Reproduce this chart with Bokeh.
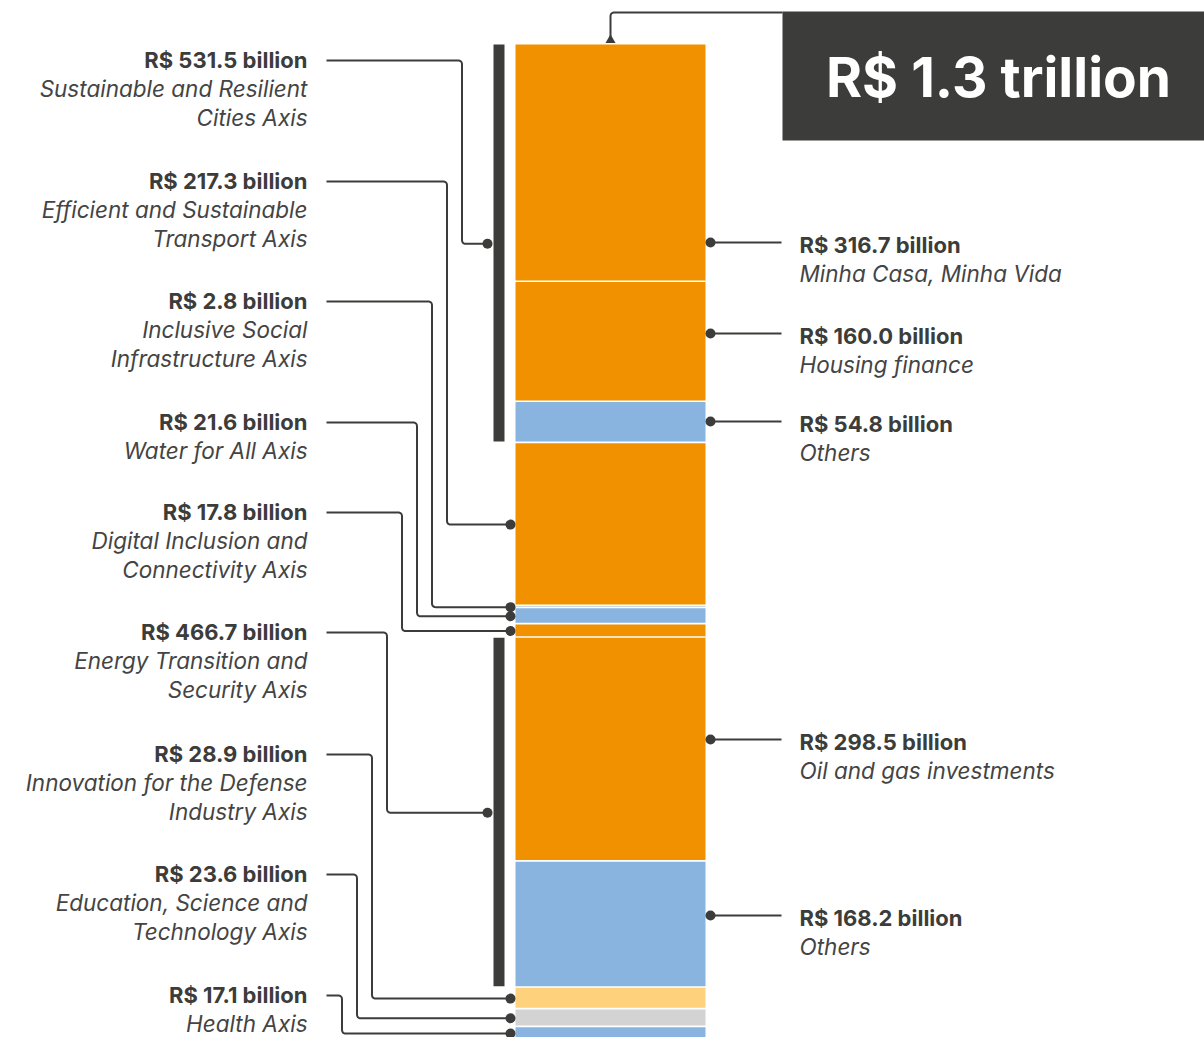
import numpy as np
from bokeh.plotting import figure
from bokeh.models import Range1d
from bokeh.core.properties import value
from bokeh.embed import file_html
from bokeh.resources import INLINE

# ---------------- data ----------------
axis_names = [
    ["Sustainable and Resilient", "Cities Axis"],
    ["Efficient and Sustainable", "Transport Axis"],
    ["Inclusive Social", "Infrastructure Axis"],
    ["Water for All Axis"],
    ["Digital Inclusion and", "Connectivity Axis"],
    ["Energy Transition and", "Security Axis"],
    ["Innovation for the Defense", "Industry Axis"],
    ["Education, Science and", "Technology Axis"],
    ["Health Axis"],
]
axis_values = [531.5, 217.3, 2.8, 21.6, 17.8, 466.7, 28.9, 23.6, 17.1]

# sub-segments of each axis
seg_axis = [0, 0, 0, 1, 2, 3, 4, 5, 5, 6, 7, 8]
seg_names = ["Minha Casa, Minha Vida", "Housing finance", "Others", None, None, None, None,
             "Oil and gas investments", "Others", None, None, None]
seg_values = [316.7, 160.0, 54.8, 217.3, 2.8, 21.6, 17.8, 298.5, 168.2, 28.9, 23.6, 17.1]
seg_kind = ["orange", "orange", "blue", "orange", "blue", "blue", "orange",
            "orange", "blue", "yellow", "gray", "blue"]
total_label = "R$ 1.3 trillion"

# ---------------- layout / style ----------------
PAL = {"orange": "#F29100", "blue": "#8AB4E0", "yellow": "#FED17C", "gray": "#D3D3D3"}
DARK = "#3C3C3B"
ITAL = "#444444"
Y0, K = 44.0, 0.75          # px of bar top, px per billion
def v(py):                  # page px -> value units
    return (py - Y0) / K

FIG_W, FIG_H = 1204, 1037
BAR_L, BAR_R = 515, 705
GAP = 1.6 / K
BOLD_SIZE, ITAL_SIZE = "22px", "22.5px"

p = figure(width=FIG_W, height=FIG_H, output_backend="svg", toolbar_location=None,
           x_range=Range1d(0, FIG_W), y_range=Range1d(v(FIG_H), v(0)),
           min_border=0, background_fill_color="white", border_fill_color="white")
p.axis.visible = False
p.grid.visible = False
p.outline_line_color = None

# ---------------- bar segments ----------------
cum = np.concatenate([[0], np.cumsum(seg_values)])
tops = cum[:-1]
bots = cum[1:] - GAP
p.quad(left=BAR_L, right=BAR_R, top=tops, bottom=bots,
       fill_color=[PAL[k] for k in seg_kind], line_color=None)

axis_cum = np.concatenate([[0], np.cumsum(axis_values)])
axis_mid = (axis_cum[:-1] + axis_cum[1:]) / 2

# brackets for multi-segment axes
grp = [i for i in range(len(axis_values)) if seg_axis.count(i) > 1]
p.quad(left=493, right=504, top=[axis_cum[i] for i in grp],
       bottom=[axis_cum[i + 1] - GAP for i in grp], fill_color=DARK, line_color=None)

# ---------------- rounded path helper ----------------
def rounded(pts, r=4.0):
    out = [pts[0]]
    for i in range(1, len(pts) - 1):
        a, b, c = map(np.array, (pts[i - 1], pts[i], pts[i + 1]))
        d1 = (b - a) / np.linalg.norm(b - a)
        d2 = (c - b) / np.linalg.norm(c - b)
        rr = min(r, np.linalg.norm(b - a) / 2, np.linalg.norm(c - b) / 2)
        s, e = b - d1 * rr, b + d2 * rr
        for t in np.linspace(0, 1, 7):
            q = (1 - t) ** 2 * s + 2 * (1 - t) * t * b + t ** 2 * e
            out.append(tuple(q))
    out.append(pts[-1])
    xs = [q[0] for q in out]
    ys = [v(q[1]) for q in out]
    return xs, ys

# ---------------- left labels ----------------
LEFT_LABEL_PX = [60, 181, 301, 422, 512, 632, 754, 874, 995]
LINE_H = 29.2
TXT_DY = -1
lx, ly, lt = [], [], []
ix, iy, it = [], [], []
cx, cy = [], []
dot_x, dot_y = [], []
for i, (val, names) in enumerate(zip(axis_values, axis_names)):
    py = LEFT_LABEL_PX[i]
    lx.append(307); ly.append(v(py + TXT_DY)); lt.append(f"R$ {val:.1f} billion")
    for j, nm in enumerate(names):
        ix.append(307); iy.append(v(py + TXT_DY + LINE_H * (j + 1))); it.append(nm)
    target_px = Y0 + K * axis_mid[i]
    vx = 461.5 - 15 * i
    dx = 487 if i in grp else 510
    xs, ys = rounded([(326, py), (vx, py), (vx, target_px), (dx, target_px)])
    cx.append(xs); cy.append(ys)
    dot_x.append(dx); dot_y.append(axis_mid[i])

p.multi_line(cx, cy, line_color=DARK, line_width=2)
p.text(lx, ly, text=lt, text_align="right", text_baseline="middle",
       text_font=value("Inter"), text_font_size=BOLD_SIZE, text_font_style="bold", text_color=DARK)
p.text(ix, iy, text=it, text_align="right", text_baseline="middle",
       text_font=value("Inter"), text_font_size=ITAL_SIZE, text_font_style="italic", text_color=ITAL)

# ---------------- right labels ----------------
RIGHT_ANCHOR_PX = [242, 333, 421, 739, 915]
named = [i for i, n in enumerate(seg_names) if n]
rx, ry, rt, rix, riy, rit = [], [], [], [], [], []
rcx, rcy = [], []
for k_, i in enumerate(named):
    py = RIGHT_ANCHOR_PX[k_]
    rcx.append([710, 781]); rcy.append([v(py), v(py)])
    dot_x.append(710); dot_y.append(v(py))
    rx.append(799); ry.append(v(py + 2)); rt.append(f"R$ {seg_values[i]:.1f} billion")
    rix.append(799); riy.append(v(py + 2 + LINE_H)); rit.append(seg_names[i])
p.multi_line(rcx, rcy, line_color=DARK, line_width=2)
p.text(rx, ry, text=rt, text_align="left", text_baseline="middle",
       text_font=value("Inter"), text_font_size=BOLD_SIZE, text_font_style="bold", text_color=DARK)
p.text(rix, riy, text=rit, text_align="left", text_baseline="middle",
       text_font=value("Inter"), text_font_size=ITAL_SIZE, text_font_style="italic", text_color=ITAL)

p.scatter(dot_x, dot_y, size=10, marker="circle", fill_color=DARK, line_color=None)

# ---------------- total box ----------------
mid_x = (BAR_L + BAR_R) / 2
xs, ys = rounded([(mid_x, 40), (mid_x, 12), (782, 12)])
p.line(xs, ys, line_color=DARK, line_width=2)
p.scatter([mid_x], [v(39.5)], marker="triangle", size=10, fill_color=DARK, line_color=None)
p.quad(left=[782], right=[1210], top=[v(11)], bottom=[v(140)], fill_color=DARK, line_color=None)
p.text([998], [v(76)], text=[total_label], text_align="center", text_baseline="middle",
       text_font=value("Inter"), text_font_size="55px", text_font_style="bold", text_color="white")

open("out.html", "w").write(file_html(p, INLINE))
